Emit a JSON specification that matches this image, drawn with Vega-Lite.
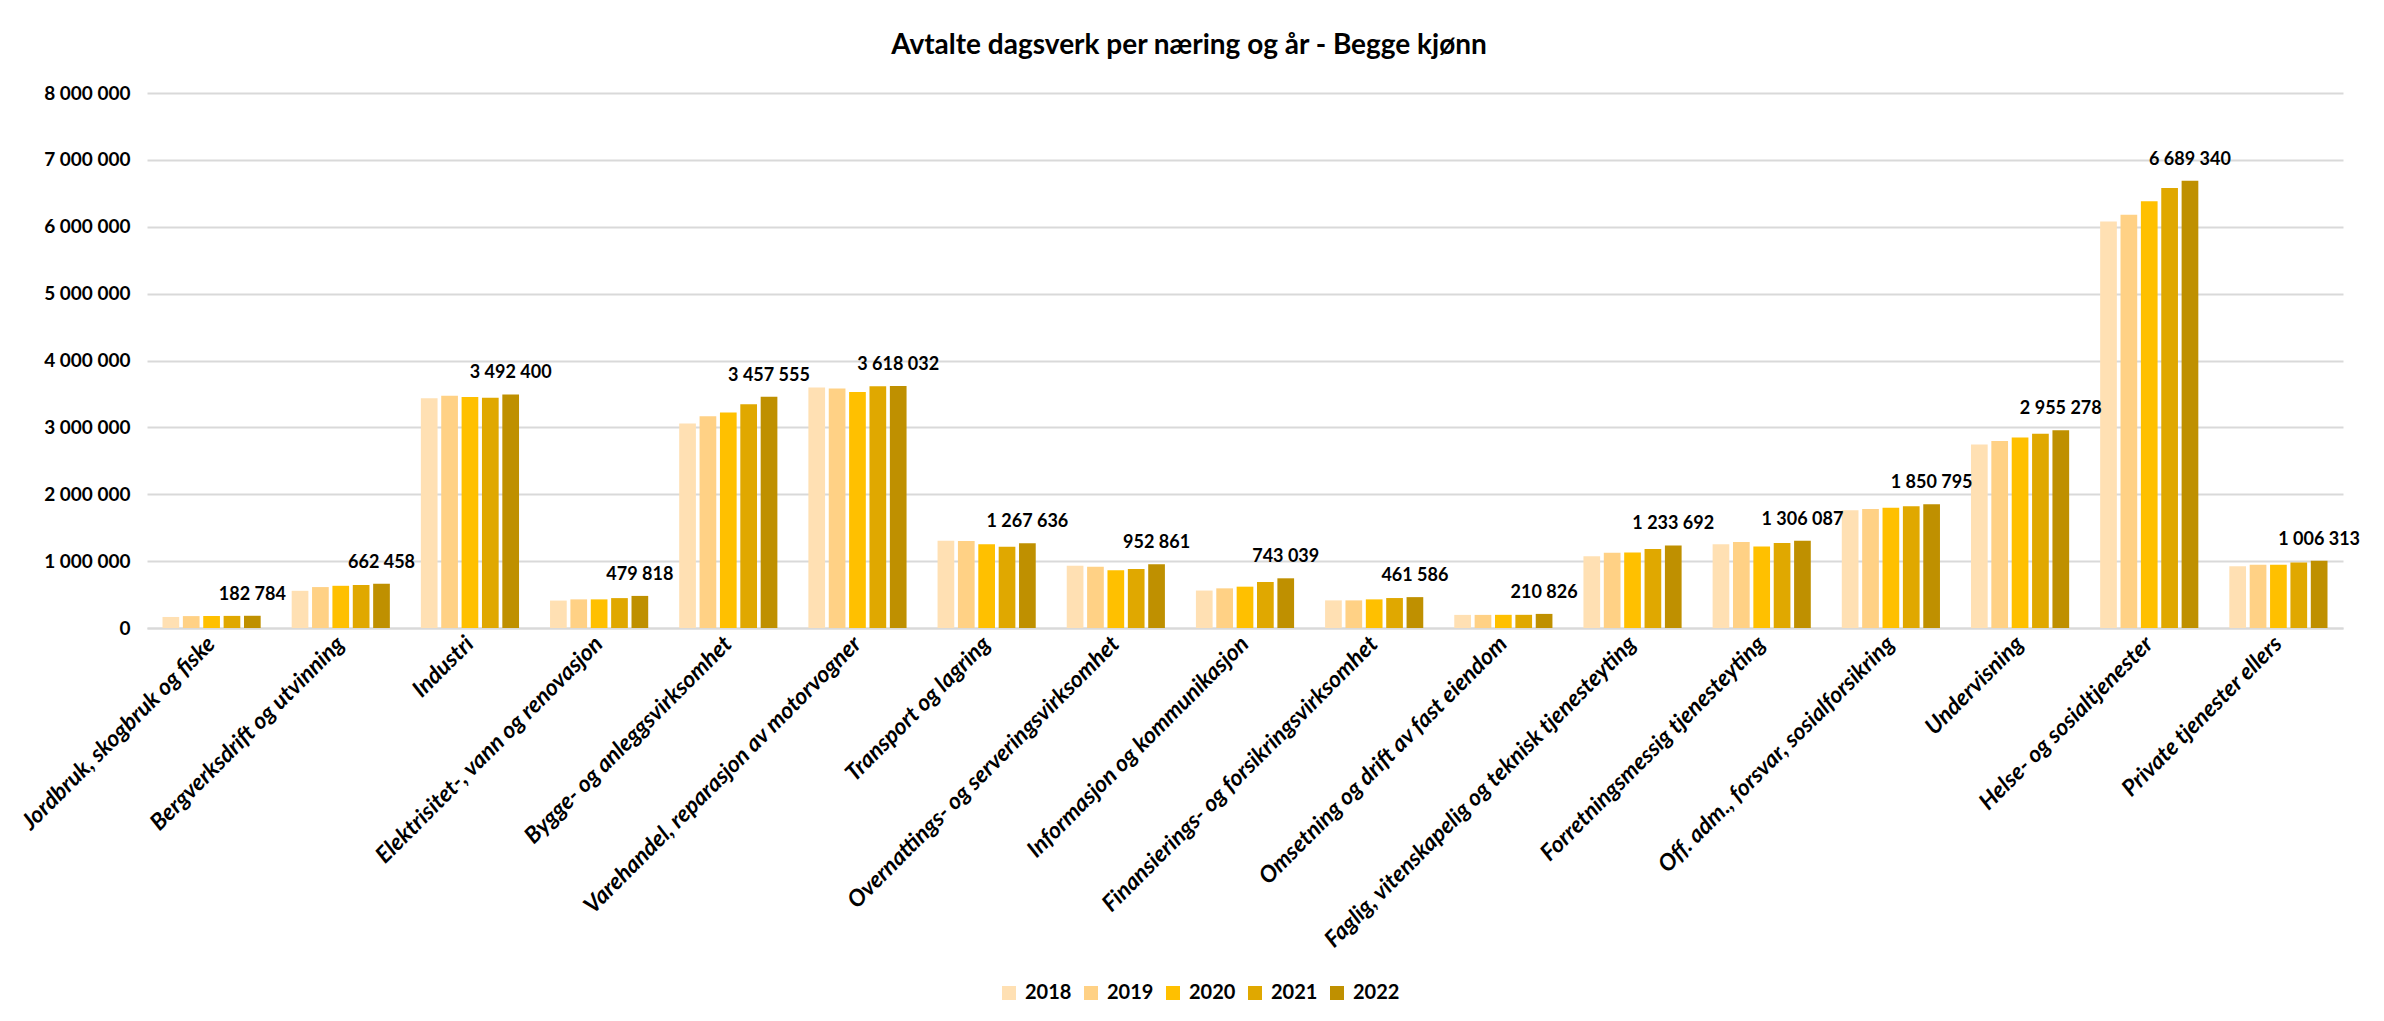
{
  "$schema": "https://vega.github.io/schema/vega-lite/v6.json",
  "autosize": {"type": "none"},
  "width": 2196,
  "height": 535,
  "padding": {"left": 147, "top": 93, "right": 41, "bottom": 393},
  "background": "white",
  "config": {
    "locale": {"number": {"decimal": ",", "thousands": " ", "grouping": [3], "currency": ["", " kr"]}},
    "font": "Lato",
    "view": {"stroke": null},
    "axis": {"labelColor": "#000000", "labelFont": "Lato", "labelFontWeight": "bold"}
  },
  "title": {
    "text": "Avtalte dagsverk per næring og år - Begge kjønn",
    "font": "Lato",
    "fontSize": 28,
    "fontWeight": "bold",
    "color": "#000000",
    "anchor": "middle",
    "frame": "group",
    "dx": -56,
    "offset": 24
  },
  "data": {"values": [
    {"n": "Jordbruk, skogbruk og fiske", "year": "2018", "value": 165000},
    {"n": "Jordbruk, skogbruk og fiske", "year": "2019", "value": 178000},
    {"n": "Jordbruk, skogbruk og fiske", "year": "2020", "value": 180000},
    {"n": "Jordbruk, skogbruk og fiske", "year": "2021", "value": 181000},
    {"n": "Jordbruk, skogbruk og fiske", "year": "2022", "value": 182784},
    {"n": "Bergverksdrift og utvinning", "year": "2018", "value": 556000},
    {"n": "Bergverksdrift og utvinning", "year": "2019", "value": 612000},
    {"n": "Bergverksdrift og utvinning", "year": "2020", "value": 631000},
    {"n": "Bergverksdrift og utvinning", "year": "2021", "value": 643000},
    {"n": "Bergverksdrift og utvinning", "year": "2022", "value": 662458},
    {"n": "Industri", "year": "2018", "value": 3436000},
    {"n": "Industri", "year": "2019", "value": 3473000},
    {"n": "Industri", "year": "2020", "value": 3455000},
    {"n": "Industri", "year": "2021", "value": 3442000},
    {"n": "Industri", "year": "2022", "value": 3492400},
    {"n": "Elektrisitet-,  vann og renovasjon", "year": "2018", "value": 410000},
    {"n": "Elektrisitet-,  vann og renovasjon", "year": "2019", "value": 428000},
    {"n": "Elektrisitet-,  vann og renovasjon", "year": "2020", "value": 428000},
    {"n": "Elektrisitet-,  vann og renovasjon", "year": "2021", "value": 447000},
    {"n": "Elektrisitet-,  vann og renovasjon", "year": "2022", "value": 479818},
    {"n": "Bygge- og anleggsvirksomhet", "year": "2018", "value": 3058000},
    {"n": "Bygge- og anleggsvirksomhet", "year": "2019", "value": 3166000},
    {"n": "Bygge- og anleggsvirksomhet", "year": "2020", "value": 3222000},
    {"n": "Bygge- og anleggsvirksomhet", "year": "2021", "value": 3346000},
    {"n": "Bygge- og anleggsvirksomhet", "year": "2022", "value": 3457555},
    {"n": "Varehandel, reparasjon av motorvogner", "year": "2018", "value": 3598000},
    {"n": "Varehandel, reparasjon av motorvogner", "year": "2019", "value": 3583000},
    {"n": "Varehandel, reparasjon av motorvogner", "year": "2020", "value": 3528000},
    {"n": "Varehandel, reparasjon av motorvogner", "year": "2021", "value": 3616000},
    {"n": "Varehandel, reparasjon av motorvogner", "year": "2022", "value": 3618032},
    {"n": "Transport og lagring", "year": "2018", "value": 1305000},
    {"n": "Transport og lagring", "year": "2019", "value": 1302000},
    {"n": "Transport og lagring", "year": "2020", "value": 1252000},
    {"n": "Transport og lagring", "year": "2021", "value": 1214000},
    {"n": "Transport og lagring", "year": "2022", "value": 1267636},
    {"n": "Overnattings- og serveringsvirksomhet", "year": "2018", "value": 932000},
    {"n": "Overnattings- og serveringsvirksomhet", "year": "2019", "value": 917000},
    {"n": "Overnattings- og serveringsvirksomhet", "year": "2020", "value": 862000},
    {"n": "Overnattings- og serveringsvirksomhet", "year": "2021", "value": 882000},
    {"n": "Overnattings- og serveringsvirksomhet", "year": "2022", "value": 952861},
    {"n": "Informasjon og kommunikasjon", "year": "2018", "value": 560000},
    {"n": "Informasjon og kommunikasjon", "year": "2019", "value": 593000},
    {"n": "Informasjon og kommunikasjon", "year": "2020", "value": 618000},
    {"n": "Informasjon og kommunikasjon", "year": "2021", "value": 688000},
    {"n": "Informasjon og kommunikasjon", "year": "2022", "value": 743039},
    {"n": "Finansierings- og forsikringsvirksomhet", "year": "2018", "value": 413000},
    {"n": "Finansierings- og forsikringsvirksomhet", "year": "2019", "value": 413000},
    {"n": "Finansierings- og forsikringsvirksomhet", "year": "2020", "value": 428000},
    {"n": "Finansierings- og forsikringsvirksomhet", "year": "2021", "value": 448000},
    {"n": "Finansierings- og forsikringsvirksomhet", "year": "2022", "value": 461586},
    {"n": "Omsetning og drift av fast eiendom", "year": "2018", "value": 196000},
    {"n": "Omsetning og drift av fast eiendom", "year": "2019", "value": 196000},
    {"n": "Omsetning og drift av fast eiendom", "year": "2020", "value": 197000},
    {"n": "Omsetning og drift av fast eiendom", "year": "2021", "value": 197000},
    {"n": "Omsetning og drift av fast eiendom", "year": "2022", "value": 210826},
    {"n": "Faglig, vitenskapelig og teknisk tjenesteyting", "year": "2018", "value": 1072000},
    {"n": "Faglig, vitenskapelig og teknisk tjenesteyting", "year": "2019", "value": 1127000},
    {"n": "Faglig, vitenskapelig og teknisk tjenesteyting", "year": "2020", "value": 1128000},
    {"n": "Faglig, vitenskapelig og teknisk tjenesteyting", "year": "2021", "value": 1181000},
    {"n": "Faglig, vitenskapelig og teknisk tjenesteyting", "year": "2022", "value": 1233692},
    {"n": "Forretningsmessig tjenesteyting", "year": "2018", "value": 1252000},
    {"n": "Forretningsmessig tjenesteyting", "year": "2019", "value": 1286000},
    {"n": "Forretningsmessig tjenesteyting", "year": "2020", "value": 1217000},
    {"n": "Forretningsmessig tjenesteyting", "year": "2021", "value": 1272000},
    {"n": "Forretningsmessig tjenesteyting", "year": "2022", "value": 1306087},
    {"n": "Off. adm., forsvar, sosialforsikring", "year": "2018", "value": 1760000},
    {"n": "Off. adm., forsvar, sosialforsikring", "year": "2019", "value": 1780000},
    {"n": "Off. adm., forsvar, sosialforsikring", "year": "2020", "value": 1800000},
    {"n": "Off. adm., forsvar, sosialforsikring", "year": "2021", "value": 1820000},
    {"n": "Off. adm., forsvar, sosialforsikring", "year": "2022", "value": 1850795},
    {"n": "Undervisning", "year": "2018", "value": 2745000},
    {"n": "Undervisning", "year": "2019", "value": 2795000},
    {"n": "Undervisning", "year": "2020", "value": 2850000},
    {"n": "Undervisning", "year": "2021", "value": 2905000},
    {"n": "Undervisning", "year": "2022", "value": 2955278},
    {"n": "Helse- og sosialtjenester", "year": "2018", "value": 6080000},
    {"n": "Helse- og sosialtjenester", "year": "2019", "value": 6180000},
    {"n": "Helse- og sosialtjenester", "year": "2020", "value": 6380000},
    {"n": "Helse- og sosialtjenester", "year": "2021", "value": 6580000},
    {"n": "Helse- og sosialtjenester", "year": "2022", "value": 6689340},
    {"n": "Private tjenester ellers", "year": "2018", "value": 925000},
    {"n": "Private tjenester ellers", "year": "2019", "value": 945000},
    {"n": "Private tjenester ellers", "year": "2020", "value": 945000},
    {"n": "Private tjenester ellers", "year": "2021", "value": 980000},
    {"n": "Private tjenester ellers", "year": "2022", "value": 1006313}
  ]},
  "encoding": {
    "x": {
      "field": "n", "type": "nominal", "sort": null, "title": null,
      "scale": {"paddingInner": 0.24, "paddingOuter": 0.12},
      "axis": {
        "labelAngle": -45, "labelAlign": "right", "labelBaseline": "middle",
        "labelFontSize": 23, "labelFontStyle": "italic", "labelPadding": 12,
        "labelLimit": 700, "labelOverlap": false,
        "ticks": false, "domainColor": "#D9D9D9", "domainWidth": 2, "grid": false
      }
    },
    "xOffset": {"field": "year", "type": "nominal", "scale": {"paddingInner": 0.18, "paddingOuter": 0}},
    "y": {
      "field": "value", "type": "quantitative", "title": null,
      "scale": {"domain": [0, 8000000]},
      "axis": {
        "values": [0, 1000000, 2000000, 3000000, 4000000, 5000000, 6000000, 7000000, 8000000],
        "format": ",d", "labelFontSize": 19, "labelPadding": 17,
        "domain": false, "ticks": false,
        "gridColor": "#D9D9D9", "gridWidth": 2
      }
    }
  },
  "layer": [
    {
      "mark": {"type": "bar"},
      "encoding": {
        "color": {
          "field": "year", "type": "nominal", "title": null,
          "scale": {"domain": ["2018", "2019", "2020", "2021", "2022"], "range": ["#FFE0B3", "#FFD185", "#FFC000", "#E0A800", "#BF9000"]},
          "legend": {
            "orient": "none", "direction": "horizontal", "legendX": 852, "legendY": 890,
            "symbolType": "square", "symbolSize": 196, "symbolStrokeWidth": 0,
            "labelFont": "Lato", "labelFontSize": 20, "labelFontWeight": "bold", "labelColor": "#000000",
            "columnPadding": 9, "labelOffset": 6
          }
        }
      }
    },
    {
      "transform": [{"filter": "datum.year == '2022'"}],
      "mark": {"type": "text", "font": "Lato", "fontSize": 18, "fontWeight": "bold", "color": "#000000", "baseline": "alphabetic", "dy": -16},
      "encoding": {
        "text": {"field": "value", "type": "quantitative", "format": ",d"}
      }
    }
  ]
}
